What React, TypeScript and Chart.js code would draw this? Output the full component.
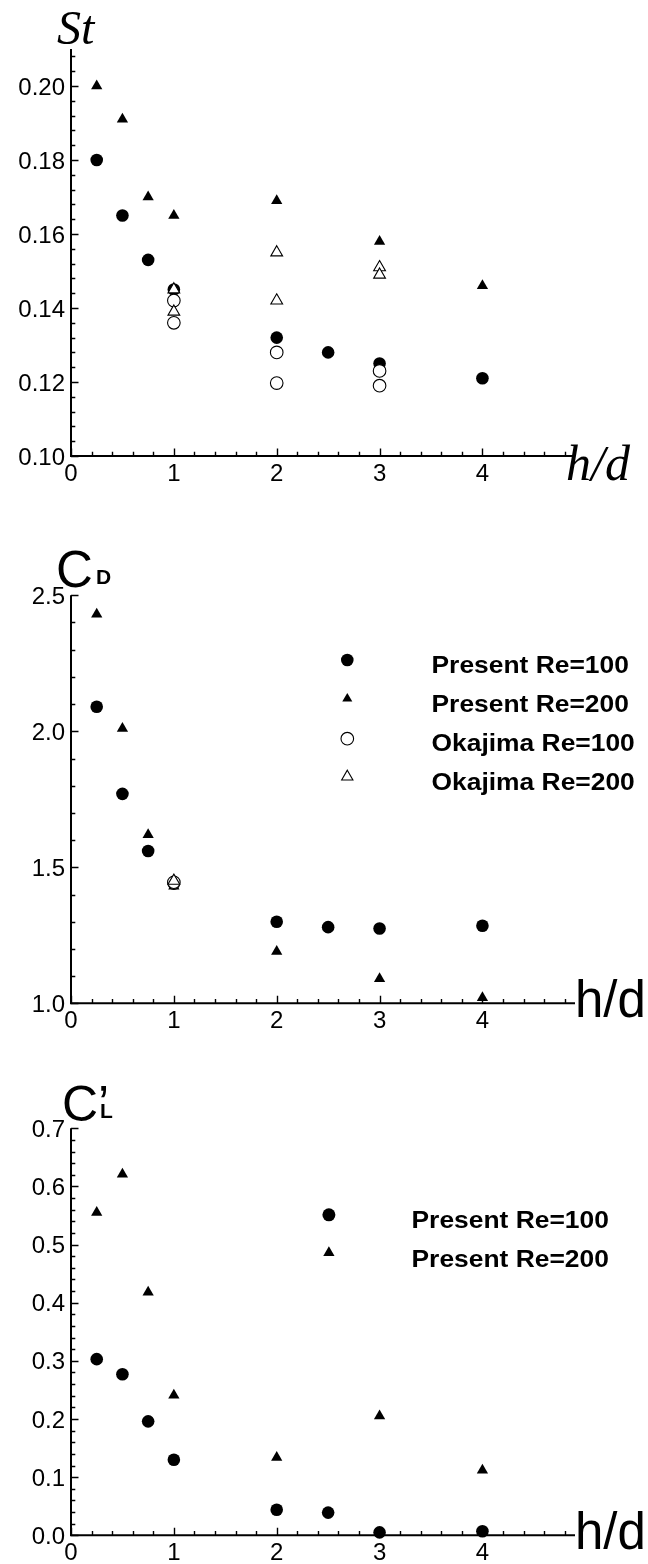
import React, { useEffect, useRef } from 'react';
import { Chart, registerables } from 'chart.js';

Chart.register(...registerables);

const SANS = '"Liberation Sans", Arial, Helvetica, sans-serif';
const SERIF = '"Liberation Serif", "Times New Roman", serif';

// ---------- data ----------
const hdPresent100 = [0.25, 0.5, 0.75, 1, 2, 2.5, 3, 4];
const hdPresent200 = [0.25, 0.5, 0.75, 1, 2, 3, 4];

// Strouhal number
const stPresent100 = [0.18, 0.165, 0.153, 0.145, 0.132, 0.128, 0.125, 0.121];
const stPresent200 = [0.2, 0.191, 0.17, 0.165, 0.169, 0.158, 0.146];
const hdStOkajima = [1, 1, 2, 2, 3, 3];
const stOkajima100 = [0.142, 0.136, 0.128, 0.1197, 0.123, 0.119];
const stOkajima200 = [0.145, 0.139, 0.155, 0.142, 0.151, 0.149];

// Drag coefficient
const cdPresent100 = [2.09, 1.77, 1.56, 1.44, 1.3, 1.28, 1.275, 1.285];
const cdPresent200 = [2.43, 2.01, 1.62, 1.43, 1.19, 1.09, 1.02];
const hdCdOkajima = [1];
const cdOkajima100 = [1.445];
const cdOkajima200 = [1.45];

// RMS lift coefficient
const clPresent100 = [0.303, 0.277, 0.196, 0.13, 0.044, 0.039, 0.005, 0.007];
const clPresent200 = [0.555, 0.621, 0.418, 0.241, 0.134, 0.205, 0.112];

// ticks
const xTickValues = [0, 1, 2, 3, 4];
const xTickLabels = ['0', '1', '2', '3', '4'];
const stTickValues = [0.1, 0.12, 0.14, 0.16, 0.18, 0.2];
const stTickLabels = ['0.10', '0.12', '0.14', '0.16', '0.18', '0.20'];
const cdTickValues = [1.0, 1.5, 2.0, 2.5];
const cdTickLabels = ['1.0', '1.5', '2.0', '2.5'];
const clTickValues = [0, 0.1, 0.2, 0.3, 0.4, 0.5, 0.6, 0.7];
const clTickLabels = ['0.0', '0.1', '0.2', '0.3', '0.4', '0.5', '0.6', '0.7'];

const legendLabelsCd = ['Present Re=100', 'Present Re=200', 'Okajima Re=100', 'Okajima Re=200'];
const legendLabelsCl = ['Present Re=100', 'Present Re=200'];

// ---------- helpers ----------
const pts = (xs: number[], ys: number[]) => xs.map((x, i) => ({ x, y: ys[i] }));

type Kind = 'fc' | 'ft' | 'oc' | 'ot';
const style = (kind: Kind) => {
  switch (kind) {
    case 'fc':
      return { pointStyle: 'circle', pointRadius: 6.3, backgroundColor: '#000', borderColor: '#000', borderWidth: 0, order: 4 };
    case 'ft':
      return { pointStyle: 'triangle', pointRadius: 6.5, backgroundColor: '#000', borderColor: '#000', borderWidth: 0, order: 3 };
    case 'oc':
      return { pointStyle: 'circle', pointRadius: 6.3, backgroundColor: '#fff', borderColor: '#000', borderWidth: 1.1, order: 2 };
    default:
      return { pointStyle: 'triangle', pointRadius: 6.8, backgroundColor: '#fff', borderColor: '#000', borderWidth: 1.1, order: 1 };
  }
};

const ds = (label: string, data: { x: number; y: number }[], kind: Kind) => {
  const s = style(kind);
  return {
    label,
    data,
    showLine: false,
    clip: false,
    pointStyle: s.pointStyle,
    pointRadius: s.pointRadius,
    pointBackgroundColor: s.backgroundColor,
    pointBorderColor: s.borderColor,
    pointBorderWidth: s.borderWidth,
    order: s.order,
  };
};

function drawMarker(ctx: CanvasRenderingContext2D, kind: Kind, x: number, y: number, r: number) {
  ctx.save();
  ctx.beginPath();
  if (kind === 'fc' || kind === 'oc') {
    ctx.arc(x, y, r, 0, Math.PI * 2);
  } else {
    for (let k = 0; k < 3; k++) {
      const a = (k * 2 * Math.PI) / 3;
      const px = x + Math.sin(a) * r;
      const py = y - Math.cos(a) * r;
      if (k === 0) ctx.moveTo(px, py);
      else ctx.lineTo(px, py);
    }
    ctx.closePath();
  }
  if (kind === 'fc' || kind === 'ft') {
    ctx.fillStyle = '#000';
    ctx.fill();
  } else {
    ctx.fillStyle = '#fff';
    ctx.fill();
    ctx.lineWidth = 1.1;
    ctx.strokeStyle = '#000';
    ctx.stroke();
  }
  ctx.restore();
}

type TextItem = { text: string; x: number; y: number; font: string; sx?: number };

type AxesCfg = {
  yTicks: number[];
  yLabels: string[];
  yMinor: number[];
  xMinor: number[];
  texts: TextItem[];
  legend?: { kinds: Kind[]; radii: number[]; labels: string[]; mx: number; my: number[]; tx: number; ty: number[] };
};

function makeAxesPlugin(cfg: AxesCfg) {
  return {
    id: 'customAxes',
    beforeDatasetsDraw(chart: any) {
      const ctx: CanvasRenderingContext2D = chart.ctx;
      const xs = chart.scales.x;
      const ys = chart.scales.y;
      const { left, right, top, bottom } = chart.chartArea;
      ctx.save();
      ctx.strokeStyle = '#000';
      // axis lines
      ctx.lineWidth = 2;
      ctx.beginPath();
      ctx.moveTo(left, top);
      ctx.lineTo(left, bottom);
      ctx.moveTo(left - 1, bottom);
      ctx.lineTo(right, bottom);
      ctx.stroke();
      // ticks
      ctx.lineWidth = 1.4;
      ctx.beginPath();
      cfg.yTicks.forEach((v) => {
        const y = Math.round(ys.getPixelForValue(v)) + 0.5;
        ctx.moveTo(left, y);
        ctx.lineTo(left + 7.5, y);
      });
      cfg.yMinor.forEach((v) => {
        const y = Math.round(ys.getPixelForValue(v)) + 0.5;
        ctx.moveTo(left, y);
        ctx.lineTo(left + 4.3, y);
      });
      xTickValues.forEach((v) => {
        const x = Math.round(xs.getPixelForValue(v)) + 0.5;
        ctx.moveTo(x, bottom);
        ctx.lineTo(x, bottom - 7.5);
      });
      cfg.xMinor.forEach((v) => {
        const x = Math.round(xs.getPixelForValue(v)) + 0.5;
        ctx.moveTo(x, bottom);
        ctx.lineTo(x, bottom - 4.2);
      });
      ctx.stroke();

      // tick labels
      ctx.fillStyle = '#000';
      ctx.font = `24px ${SANS}`;
      ctx.textBaseline = 'alphabetic';
      ctx.textAlign = 'right';
      cfg.yTicks.forEach((v, i) => {
        const y = ys.getPixelForValue(v);
        ctx.fillText(cfg.yLabels[i], left - 6, y + 8.6);
      });
      ctx.textAlign = 'center';
      xTickValues.forEach((v, i) => {
        const x = xs.getPixelForValue(v);
        ctx.fillText(xTickLabels[i], x, bottom + 25);
      });

      // titles
      ctx.textAlign = 'left';
      cfg.texts.forEach((t) => {
        ctx.save();
        ctx.font = t.font;
        ctx.translate(t.x, t.y);
        ctx.scale(t.sx || 1, 1);
        ctx.fillText(t.text, 0, 0);
        ctx.restore();
      });

      // legend
      if (cfg.legend) {
        const L = cfg.legend;
        L.kinds.forEach((k, i) => {
          drawMarker(ctx, k, L.mx, L.my[i], L.radii[i]);
          ctx.save();
          ctx.font = `bold 24px ${SANS}`;
          ctx.textAlign = 'left';
          ctx.fillStyle = '#000';
          ctx.translate(L.tx, L.ty[i]);
          ctx.scale(1.1, 1);
          ctx.fillText(L.labels[i], 0, 0);
          ctx.restore();
        });
      }
      ctx.restore();
    },
  };
}

const xMinorTicks: number[] = [];
for (let i = 1; i <= 24; i++) if (i % 5 !== 0) xMinorTicks.push(i * 0.2);

const stMinor: number[] = [];
for (let i = 0; i <= 27; i++) if (i % 5 !== 0) stMinor.push(0.1 + i * 0.004);
const cdMinor: number[] = [];
for (let i = 0; i <= 15; i++) if (i % 5 !== 0) cdMinor.push(1 + i * 0.1);
const clMinor: number[] = [];
for (let i = 0; i <= 35; i++) if (i % 5 !== 0) clMinor.push(i * 0.02);

function buildConfig(
  datasets: any[],
  yMin: number,
  yMax: number,
  padding: { left: number; right: number; top: number; bottom: number },
  cfg: AxesCfg
) {
  return {
    type: 'scatter' as const,
    data: { datasets },
    options: {
      responsive: false,
      maintainAspectRatio: false,
      animation: false as const,
      events: [],
      layout: { padding },
      plugins: { legend: { display: false }, tooltip: { enabled: false } },
      scales: {
        x: { type: 'linear' as const, display: false, min: 0, max: 4.9 },
        y: { type: 'linear' as const, display: false, min: yMin, max: yMax },
      },
    },
    plugins: [makeAxesPlugin(cfg)],
  };
}

const stConfig = () =>
  buildConfig(
    [
      ds('Present Re=100', pts(hdPresent100, stPresent100), 'fc'),
      ds('Present Re=200', pts(hdPresent200, stPresent200), 'ft'),
      ds('Okajima Re=100', pts(hdStOkajima, stOkajima100), 'oc'),
      ds('Okajima Re=200', pts(hdStOkajima, stOkajima200), 'ot'),
    ],
    0.1,
    0.21,
    { left: 71, right: 73, top: 49, bottom: 54 },
    {
      yTicks: stTickValues,
      yLabels: stTickLabels,
      yMinor: stMinor,
      xMinor: xMinorTicks,
      texts: [
        { text: 'St', x: 57, y: 44, font: `italic 48px ${SERIF}` },
        { text: 'h/d', x: 566, y: 480, font: `italic 50px ${SERIF}` },
      ],
    }
  );

const cdConfig = () =>
  buildConfig(
    [
      ds('Present Re=100', pts(hdPresent100, cdPresent100), 'fc'),
      ds('Present Re=200', pts(hdPresent200, cdPresent200), 'ft'),
      ds('Okajima Re=100', pts(hdCdOkajima, cdOkajima100), 'oc'),
      ds('Okajima Re=200', pts(hdCdOkajima, cdOkajima200), 'ot'),
    ],
    1.0,
    2.5,
    { left: 71, right: 73, top: 85.3, bottom: 36.7 },
    {
      yTicks: cdTickValues,
      yLabels: cdTickLabels,
      yMinor: cdMinor,
      xMinor: xMinorTicks,
      texts: [
        { text: 'C', x: 56, y: 76.5, font: `51px ${SANS}` },
        { text: 'D', x: 96, y: 74.3, font: `bold 21px ${SANS}` },
        { text: 'h/d', x: 575, y: 506.7, font: `51px ${SANS}` },
      ],
      legend: {
        kinds: ['fc', 'ft', 'oc', 'ot'],
        radii: [6.3, 5.8, 6.3, 6.5],
        labels: legendLabelsCd,
        mx: 347.3,
        my: [150, 188.7, 228.7, 266.7],
        tx: 431.5,
        ty: [163.3, 201.7, 241, 280],
      },
    }
  );

const clConfig = () =>
  buildConfig(
    [
      ds('Present Re=100', pts(hdPresent100, clPresent100), 'fc'),
      ds('Present Re=200', pts(hdPresent200, clPresent200), 'ft'),
    ],
    0,
    0.7,
    { left: 71, right: 73, top: 88.3, bottom: 28.7 },
    {
      yTicks: clTickValues,
      yLabels: clTickLabels,
      yMinor: clMinor,
      xMinor: xMinorTicks,
      texts: [
        { text: 'C\u2019', x: 62, y: 80.5, font: `50px ${SANS}` },
        { text: 'L', x: 100, y: 78.3, font: `bold 21px ${SANS}` },
        { text: 'h/d', x: 575, y: 509, font: `51px ${SANS}` },
      ],
      legend: {
        kinds: ['fc', 'ft'],
        radii: [6.5, 6.5],
        labels: legendLabelsCl,
        mx: 328.9,
        my: [174.8, 212.8],
        tx: 411.5,
        ty: [188, 227],
      },
    }
  );

function ChartCanvas({ top, height, build }: { top: number; height: number; build: () => any }) {
  const ref = useRef<HTMLCanvasElement | null>(null);
  useEffect(() => {
    if (!ref.current) return;
    const chart = new Chart(ref.current, build());
    return () => chart.destroy();
  }, []);
  return (
    <canvas
      ref={ref}
      width={648}
      height={height}
      style={{ position: 'absolute', left: 0, top, width: 648, height, display: 'block' }}
    />
  );
}

export default function App() {
  return (
    <div style={{ position: 'absolute', left: 0, top: 0, width: 648, height: 1564, background: '#fff', overflow: 'hidden' }}>
      <ChartCanvas top={0} height={510} build={stConfig} />
      <ChartCanvas top={510} height={530} build={cdConfig} />
      <ChartCanvas top={1040} height={524} build={clConfig} />
    </div>
  );
}
